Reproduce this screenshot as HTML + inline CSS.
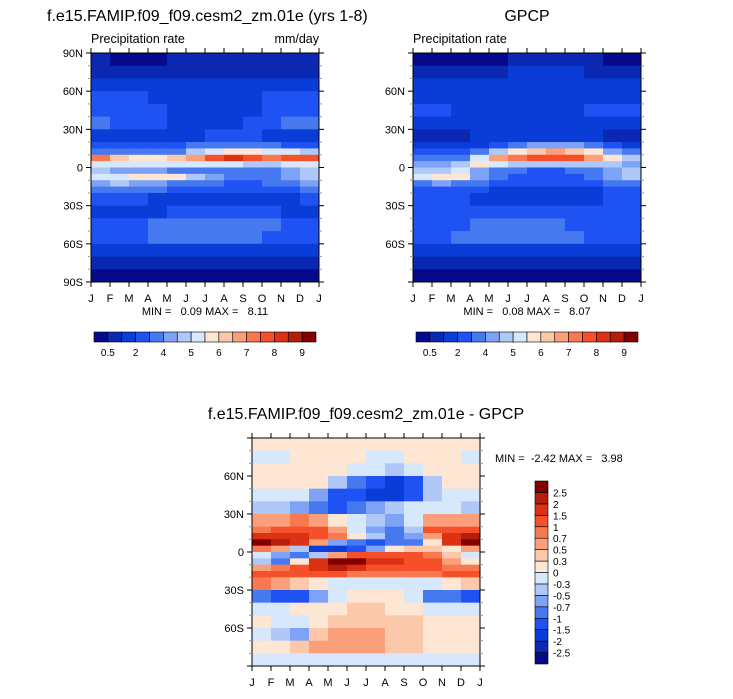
<!DOCTYPE html>
<html><head><meta charset="utf-8">
<style>
html,body{margin:0;padding:0;background:#fff;}
body{width:733px;height:694px;overflow:hidden;font-family:"Liberation Sans",sans-serif;}
svg text{font-family:"Liberation Sans",sans-serif;fill:#000;white-space:pre;}
</style></head>
<body>
<svg id="fig" width="733" height="694" viewBox="0 0 733 694" xmlns="http://www.w3.org/2000/svg"></svg>
<script>
// ---- data ----
const months = ["J","F","M","A","M","J","J","A","S","O","N","D","J"];
const latEdges = [90,80,70,60,50,40,30,20,15,10,5,0,-5,-10,-15,-20,-30,-40,-50,-60,-70,-80,-90];
const precipLevels = [0.5,1,2,3,4,4.5,5,5.5,6,6.5,7,7.5,8,8.5,9];
const precipLabels = ["0.5","2","4","5","6","7","8","9"];
const diffLevels = [-2.5,-2,-1.5,-1,-0.7,-0.5,-0.3,0,0.3,0.5,0.7,1,1.5,2,2.5];
const diffLabels = ["-2.5","-2","-1.5","-1","-0.7","-0.5","-0.3","0","0.3","0.5","0.7","1","1.5","2","2.5"];
const colors = ["#06098a","#0a28b2","#0a3cd8","#1e52f2","#4678f0","#7ea2f5","#afc8f8","#d7e7fc","#fde6d3","#fcc8aa","#fa9f7a","#f87850","#f5502a","#dc3214","#b41e0a","#820000"];
const modelVals = [
[0.6,0.4,0.4,0.4,0.6,0.6,0.7,0.7,0.7,0.7,0.6,0.6],
[0.8,0.8,0.8,0.8,0.9,0.9,0.9,0.9,0.9,0.8,0.8,0.8],
[1.5,1.5,1.5,1.5,1.5,1.5,1.2,1.2,1.4,1.5,1.5,1.5],
[2.5,2.5,2.2,1.8,1.7,1.6,1.6,1.6,1.7,2.2,2.5,2.5],
[2.6,2.5,2.5,2.2,1.8,1.7,1.7,1.7,1.8,2.5,2.6,2.6],
[3.2,2.6,2.4,2.2,1.8,1.7,1.7,1.8,2.2,2.5,3.0,3.2],
[1.5,1.5,1.6,1.6,1.8,1.8,2.2,2.4,2.2,1.8,1.6,1.5],
[2.2,2.2,2.2,2.4,2.6,3.2,3.6,3.8,3.6,3.2,2.6,2.4],
[3.5,3.0,3.0,3.2,3.8,4.6,5.2,5.6,5.6,5.2,5.2,4.6],
[7.4,6.0,5.8,5.8,6.0,6.6,7.6,8.0,7.8,7.2,7.6,7.8],
[5.2,5.0,5.0,5.2,5.4,5.2,5.0,5.0,4.8,4.8,5.0,5.2],
[4.5,4.3,4.3,4.4,3.8,3.5,3.5,3.5,3.5,3.8,4.2,4.5],
[5.0,5.4,5.6,5.8,5.6,4.6,4.0,3.6,3.6,3.8,4.4,4.8],
[4.3,4.6,4.4,4.2,3.8,3.3,3.0,2.8,2.8,3.0,3.4,4.2],
[3.5,3.4,3.2,3.0,2.6,2.4,2.2,2.1,2.1,2.2,2.6,3.2],
[2.4,2.2,2.0,1.8,1.6,1.5,1.3,1.2,1.3,1.6,1.8,2.2],
[1.8,1.8,1.8,1.9,2.2,2.4,2.4,2.4,2.2,2.0,1.8,1.8],
[2.6,2.6,2.8,3.2,3.3,3.3,3.3,3.3,3.2,3.0,2.6,2.6],
[2.6,2.7,2.8,3.1,3.2,3.2,3.2,3.2,3.1,2.8,2.7,2.6],
[1.5,1.5,1.6,1.6,1.8,1.8,1.8,1.8,1.7,1.6,1.5,1.5],
[0.7,0.7,0.7,0.8,0.8,0.8,0.8,0.8,0.8,0.7,0.7,0.7],
[0.3,0.3,0.3,0.3,0.3,0.3,0.3,0.3,0.3,0.3,0.3,0.3]];
const obsVals = [
[0.4,0.4,0.4,0.4,0.4,0.8,0.8,0.8,0.8,0.8,0.4,0.4],
[0.8,0.8,0.8,0.8,0.9,1.3,1.3,1.2,1.0,0.9,0.8,0.8],
[1.5,1.5,1.5,1.5,1.5,1.5,1.5,1.5,1.5,1.5,1.5,1.5],
[1.8,1.8,1.7,1.6,1.6,1.6,1.6,1.7,1.8,1.8,1.8,1.8],
[2.3,2.2,1.7,1.6,1.6,1.6,1.6,1.6,1.8,2.2,2.4,2.2],
[1.9,1.8,1.7,1.7,1.6,1.6,1.6,1.6,1.7,1.8,1.9,1.9],
[0.9,0.9,0.9,1.2,1.5,1.6,1.7,1.8,1.6,1.3,0.9,0.9],
[1.5,1.4,1.5,1.8,2.5,3.5,4.2,4.4,4.0,3.5,2.5,1.8],
[2.5,2.2,2.5,3.5,4.8,5.8,6.4,6.5,6.2,5.5,4.4,3.2],
[3.5,3.2,3.6,5.0,6.6,7.2,7.8,7.8,7.5,6.8,5.8,4.6],
[4.4,4.0,4.5,5.6,5.2,4.8,4.6,4.5,4.6,4.8,4.8,4.4],
[4.6,4.8,5.0,4.4,3.5,3.0,2.8,2.8,3.0,3.2,4.2,4.5],
[5.4,5.6,5.6,4.0,3.0,2.6,2.4,2.4,2.6,3.0,4.2,4.8],
[3.8,4.0,3.6,3.0,2.5,2.2,2.0,2.0,2.2,2.6,3.2,3.6],
[2.4,2.4,2.2,2.1,1.6,1.5,1.2,1.2,1.4,1.6,2.2,2.4],
[2.2,2.2,2.1,1.8,1.6,1.5,1.5,1.5,1.6,1.8,2.2,2.2],
[2.3,2.3,2.3,2.4,2.4,2.4,2.4,2.4,2.4,2.3,2.3,2.3],
[2.4,2.6,2.8,3.0,3.1,3.1,3.0,3.0,2.8,2.6,2.4,2.4],
[2.5,2.6,3.5,3.0,3.0,3.1,3.1,3.1,3.0,2.8,2.6,2.5],
[1.5,1.5,1.6,1.6,1.6,1.6,1.6,1.6,1.6,1.6,1.5,1.5],
[0.8,0.8,0.8,0.8,0.8,0.8,0.7,0.7,0.7,0.7,0.7,0.8],
[0.4,0.4,0.4,0.4,0.4,0.4,0.4,0.4,0.4,0.4,0.4,0.4]];
const diffVals = [
[0.1,0.1,0.1,0.1,0.1,0.1,0.1,0.1,0.1,0.1,0.1,0.1],
[-0.1,-0.1,0.1,0.1,0.1,0.1,-0.1,-0.1,0.1,0.1,0.1,-0.1],
[0.1,0.1,0.1,0.1,0.1,-0.1,-0.2,-0.4,-0.2,0.1,0.1,0.1],
[0.1,0.1,0.1,0.1,-0.4,-0.8,-1.2,-1.6,-1.2,-0.4,0.1,0.1],
[-0.2,-0.2,-0.2,-0.6,-1.2,-1.5,-1.6,-1.6,-1.2,-0.4,-0.2,-0.2],
[-0.4,-0.5,-0.6,-1.0,-1.2,-0.8,-0.6,-0.4,-0.2,-0.1,-0.2,-0.4],
[0.6,0.6,0.8,0.6,0.2,-0.2,-0.4,-0.6,-0.2,0.6,0.6,0.6],
[0.9,1.0,1.2,1.2,0.6,-0.2,-0.6,-0.8,-0.4,1.2,1.3,1.2],
[1.8,1.6,1.6,1.4,0.8,0.2,-0.4,-0.8,-0.6,0.6,1.6,2.2],
[2.6,2.2,1.6,0.6,-0.6,-1.0,-1.2,-1.0,-0.8,0.2,1.6,2.6],
[0.8,0.6,-0.4,-1.8,-2.0,-1.2,-0.6,0.2,0.4,0.4,0.2,0.6],
[-0.3,-0.6,-0.8,-0.4,0.6,1.0,1.2,1.2,1.0,0.8,0.4,-0.2],
[-0.4,-0.8,0.2,1.6,2.6,2.6,1.8,1.5,1.2,1.0,0.6,0.2],
[0.6,0.8,1.0,1.6,2.0,1.6,1.2,1.0,1.0,1.0,0.8,0.8],
[1.2,1.2,1.2,1.2,1.0,0.8,0.8,0.8,0.8,0.8,1.0,1.2],
[0.8,0.6,0.3,0.1,-0.1,-0.1,-0.1,-0.1,-0.1,-0.1,0.2,0.4],
[-1.0,-1.2,-1.1,-0.6,-0.2,0.1,0.1,0.1,-0.2,-0.8,-1.0,-1.2],
[-0.2,-0.2,0.1,0.1,0.2,0.3,0.3,0.2,0.1,-0.2,-0.2,-0.2],
[0.1,-0.1,-0.3,0.1,0.3,0.3,0.4,0.4,0.3,0.1,0.1,0.1],
[-0.1,-0.4,-0.6,0.3,0.5,0.5,0.5,0.4,0.3,0.1,0.1,0.1],
[0.1,0.2,0.4,0.6,0.6,0.6,0.5,0.4,0.3,0.2,0.1,0.1],
[-0.1,-0.1,-0.1,-0.1,-0.1,-0.1,-0.1,-0.1,-0.1,-0.1,-0.1,-0.1]];

// ---- drawing ----
const NS = "http://www.w3.org/2000/svg";
const svg = document.getElementById("fig");
function mk(tag, attrs, parent, txt){
  const e = document.createElementNS(NS, tag);
  for (const k in attrs) e.setAttribute(k, attrs[k]);
  if (txt !== undefined) e.textContent = txt;
  (parent || svg).appendChild(e);
  return e;
}
function classify(v, lv){ let i = 0; while (i < lv.length && v >= lv[i]) i++; return i; }

function panel(name, x0, y0, w, h, vals, lv, latLabels){
  const g = mk("g", {}, svg);
  
  
  const xs = m => x0 + m / 12 * w;
  const ys = lat => y0 + (90 - lat) / 180 * h;
  for (let r = 0; r < vals.length; r++) {
    for (let c = 0; c < 12; c++) {
      const y1 = ys(latEdges[r]), y2 = ys(latEdges[r + 1]);
      const cell = mk("rect", {x: xs(c).toFixed(2), y: y1.toFixed(2), width: (xs(c + 1) - xs(c) + 0.5).toFixed(2), height: (y2 - y1 + 0.5).toFixed(2), fill: colors[classify(vals[r][c], lv)]}, g);
      
      
    }
  }
  const fr = mk("rect", {x: x0, y: y0, width: w, height: h, fill: "none", stroke: "#000", "stroke-width": 1}, g);
  
  
  for (let m = 0; m <= 12; m++) {
    const x = xs(m);
    mk("line", {x1: x, x2: x, y1: y0 + h, y2: y0 + h + 5, stroke: "#000"}, g);
    mk("line", {x1: x, x2: x, y1: y0, y2: y0 - 5, stroke: "#000"}, g);
    const t = mk("text", {x: x, y: y0 + h + 20, "font-size": 11, "text-anchor": "middle"}, g, months[m]);
    
    
  }
  for (let lat = -90; lat <= 90; lat += 10) {
    const y = ys(lat);
    const major = lat % 30 === 0;
    const len = major ? 5 : 3;
    mk("line", {x1: x0, x2: x0 - len, y1: y, y2: y, stroke: major ? "#000" : "#999"}, g);
    mk("line", {x1: x0 + w, x2: x0 + w + len, y1: y, y2: y, stroke: major ? "#000" : "#999"}, g);
  }
  latLabels.forEach(lat => {
    const lab = lat === 0 ? "0" : Math.abs(lat) + (lat > 0 ? "N" : "S");
    const t = mk("text", {x: x0 - 8, y: ys(lat) + 4, "font-size": 11, "text-anchor": "end"}, g, lab);
    
    
  });
}

function hbar(name, x0, y0, w, h, labels){
  const g = mk("g", {}, svg);
  
  
  const bw = w / colors.length;
  colors.forEach((c, i) => {
    const b = mk("rect", {x: x0 + i * bw, y: y0, width: bw, height: h, fill: c, stroke: "#000", "stroke-width": 0.6}, g);
    
    
  });
  labels.forEach((l, i) => {
    const t = mk("text", {x: x0 + (1 + 2 * i) * bw, y: y0 + h + 14, "font-size": 10, "text-anchor": "middle"}, g, l);
    
    
  });
}

function vbar(name, x0, y0, w, h, labels){
  const g = mk("g", {}, svg);
  
  
  const bh = h / colors.length;
  colors.forEach((c, i) => {
    const b = mk("rect", {x: x0, y: y0 + (colors.length - 1 - i) * bh, width: w, height: bh, fill: c, stroke: "#000", "stroke-width": 0.6}, g);
    
    
  });
  labels.forEach((l, i) => {
    const t = mk("text", {x: x0 + w + 5, y: y0 + (colors.length - 1 - i) * bh + 4, "font-size": 10}, g, l);
    
    
  });
}

function label(name, x, y, size, txt, anchor){
  const t = mk("text", {x: x, y: y, "font-size": size, "text-anchor": anchor || "start"}, svg, txt);
  
  
}

panel("model-panel", 91, 53, 228, 229, modelVals, precipLevels, [90,60,30,0,-30,-60,-90]);
panel("gpcp-panel", 413, 53, 228, 229, obsVals, precipLevels, [60,30,0,-30,-60]);
panel("diff-panel", 252, 438, 228, 228, diffVals, diffLevels, [60,30,0,-30,-60]);
hbar("model-colorbar", 94, 332, 222, 10, precipLabels);
hbar("gpcp-colorbar", 416, 332, 222, 10, precipLabels);
vbar("diff-colorbar", 535, 481, 13, 183, diffLabels);

label("model-title", 47, 21, 16, "f.e15.FAMIP.f09_f09.cesm2_zm.01e (yrs 1-8)");
label("gpcp-title", 527, 21, 16, "GPCP", "middle");
label("model-subtitle", 91, 43, 12.5, "Precipitation rate");
label("model-units", 319, 43, 12.5, "mm/day", "end");
label("gpcp-subtitle", 413, 43, 12.5, "Precipitation rate");
label("model-minmax", 205, 315, 11, "MIN =   0.09 MAX =   8.11", "middle");
label("gpcp-minmax", 527, 315, 11, "MIN =   0.08 MAX =   8.07", "middle");
label("diff-title", 366, 419, 16, "f.e15.FAMIP.f09_f09.cesm2_zm.01e - GPCP", "middle");
label("diff-minmax", 495, 462, 11, "MIN =  -2.42 MAX =   3.98");
</script>
</body></html>
